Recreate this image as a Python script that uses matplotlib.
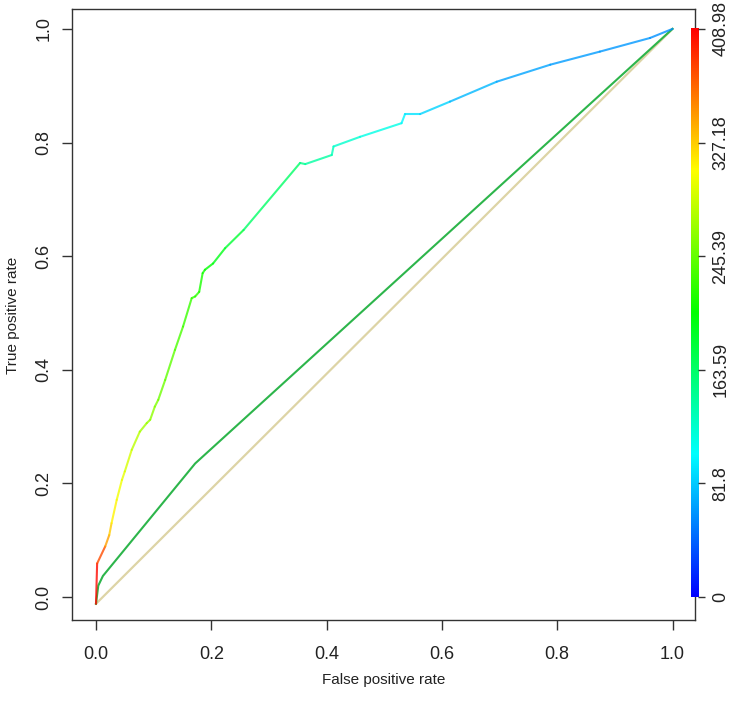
import numpy as np
import matplotlib
matplotlib.use("Agg")
import matplotlib.pyplot as plt
from matplotlib.collections import LineCollection
from matplotlib.colors import ListedColormap, Normalize, hsv_to_rgb

plt.rcParams["font.family"] = ["Liberation Sans", "DejaVu Sans"]

# ROC curve: false positive rate, true positive rate, cutoff
roc_fpr = [0.0, 0.002, 0.016, 0.023, 0.027, 0.036, 0.045, 0.050, 0.062, 0.076,
           0.088, 0.094, 0.102, 0.108, 0.120, 0.137, 0.151, 0.166, 0.172, 0.179,
           0.185, 0.189, 0.203, 0.224, 0.256, 0.354, 0.363, 0.409, 0.412, 0.458,
           0.530, 0.536, 0.562, 0.614, 0.695, 0.788, 0.874, 0.961, 1.0]
roc_tpr = [-0.012, 0.059, 0.089, 0.109, 0.130, 0.171, 0.206, 0.221, 0.259, 0.291,
           0.306, 0.312, 0.335, 0.347, 0.382, 0.435, 0.476, 0.526, 0.529, 0.537,
           0.570, 0.576, 0.587, 0.614, 0.646, 0.764, 0.762, 0.778, 0.793, 0.810,
           0.834, 0.850, 0.850, 0.872, 0.907, 0.937, 0.960, 0.984, 1.0]
roc_cut = [409, 400, 355, 335, 318, 305, 298, 294, 285, 272,
           266, 263, 258, 252, 246, 238, 231, 224, 222, 219,
           212, 208, 200, 190, 178, 150, 148, 132, 128, 118,
           106, 95, 90, 80, 68, 64, 62, 60, 58]

# second curve (green) and third curve (tan)
green_fpr = [0.0, 0.004, 0.012, 0.172, 1.0]
green_tpr = [-0.012, 0.020, 0.037, 0.235, 1.0]
tan_fpr = [0.0, 1.0]
tan_tpr = [-0.012, 1.0]

cut_max = 408.98
cbar_ticks = [0.0, 0.2, 0.4, 0.6, 0.8, 1.0]
cbar_labels = ["0", "81.8", "163.59", "245.39", "327.18", "408.98"]
axis_ticks = [0.0, 0.2, 0.4, 0.6, 0.8, 1.0]
axis_labels = ["0.0", "0.2", "0.4", "0.6", "0.8", "1.0"]

# R-style rainbow palette, blue (low) -> red (high)
hues = np.linspace(4 / 6, 0, 256)
palette = ListedColormap(hsv_to_rgb(np.column_stack([hues, np.ones(256), np.ones(256)])))
norm = Normalize(0, cut_max)

fig = plt.figure(figsize=(7.35, 7.15), dpi=100)
ax = fig.add_axes([72 / 735, 1 - 620 / 715, 623 / 735, 611 / 715])

ax.plot(tan_fpr, tan_tpr, color="#DDD4A6", lw=1.6, zorder=2)
ax.plot(green_fpr, green_tpr, color="#2DB54B", lw=1.5, zorder=3)

pts = np.column_stack([roc_fpr, roc_tpr])
segs = np.stack([pts[:-1], pts[1:]], axis=1)
cuts = np.array(roc_cut, dtype=float)
lc = LineCollection(segs, cmap=palette, norm=norm, linewidths=1.5, alpha=0.8,
                    capstyle="round", joinstyle="round", zorder=4)
lc.set_array((cuts[:-1] + cuts[1:]) / 2)
ax.add_collection(lc)

xlim = (-0.0416, 1.039)
ylim = (-0.0405, 1.035)

# colour bar at the right edge of the box
grad = np.linspace(0, 1, 256).reshape(-1, 1)
ax.imshow(grad, cmap=palette, origin="lower", aspect="auto",
          extent=(1.032, 1.045, 0.0, 1.0), zorder=5, clip_on=False)
ax.set_xlim(xlim)
ax.set_ylim(ylim)

ax.set_xticks(axis_ticks)
ax.set_xticklabels(axis_labels)
ax.set_yticks(axis_ticks)
ax.set_yticklabels(axis_labels, rotation=90, va="center")
ax.tick_params(direction="out", length=7, width=1, color="#333333",
               labelsize=13, labelcolor="#222222")
ax.tick_params(axis="x", pad=12)
ax.tick_params(axis="y", pad=7)
for s in ax.spines.values():
    s.set_color("#333333")
    s.set_linewidth(1)

ax2 = ax.twinx()
ax2.spines["right"].set_position(("axes", (1.045 - xlim[0]) / (xlim[1] - xlim[0])))
for s in ax2.spines.values():
    s.set_visible(False)
ax2.set_ylim(ylim)
ax2.set_yticks(cbar_ticks)
ax2.set_yticklabels(cbar_labels, rotation=90, va="center")
ax2.tick_params(direction="out", length=5, width=1, color="#333333",
                labelsize=13, labelcolor="#222222", pad=5)

fig.text(384 / 735, 1 - 680 / 715, "False positive rate", ha="center", va="center",
         fontsize=11, color="#222222")
fig.text(13 / 735, 1 - 315 / 715, "True positive rate", ha="center", va="center",
         rotation=90, fontsize=11, color="#222222")

fig.savefig("out.png", dpi=100)
